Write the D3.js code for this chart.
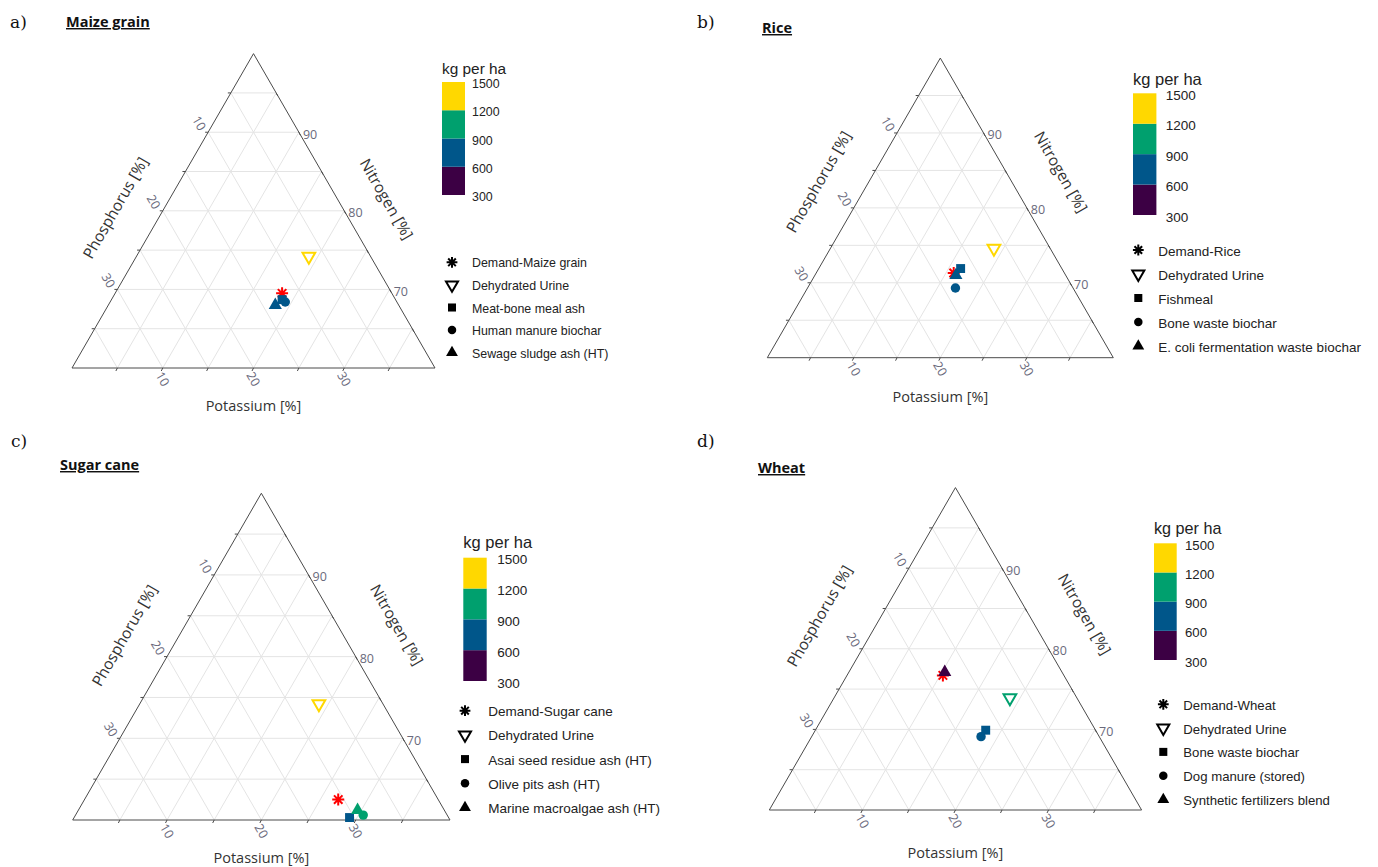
<!DOCTYPE html>
<html lang="en">
<head>
    <meta charset="UTF-8">
    <title>ternary plots</title>
    <script src="https://d3js.org/d3.v7.min.js"></script>
    <style>
        body{ margin:0; background:#fff; }
        .grid{ stroke:#e4e4e4; stroke-width:1; fill:none; }
        .edge{ stroke:#4a4a4a; stroke-width:1; fill:none; }
        .tick{ font-family:"Open Sans",sans-serif; font-size:12.5px; fill:#6a6a7c; }
        .axlab{ font-family:"Open Sans",sans-serif; font-size:14.5px; fill:#333; }
        .leg{ font-family:"Liberation Sans",Arial,sans-serif; fill:#222; }
    </style>
</head>
<body>
<svg id="fig" width="1378" height="867"></svg>

<script>
    // data
    let panelTags = ["a)", "b)", "c)", "d)"]
    let crops = ["Maize grain", "Rice", "Sugar cane", "Wheat"]
    let seriesNames = [
        ["Demand-Maize grain", "Dehydrated Urine", "Meat-bone meal ash", "Human manure biochar", "Sewage sludge ash (HT)"],
        ["Demand-Rice", "Dehydrated Urine", "Fishmeal", "Bone waste biochar", "E. coli fermentation waste biochar"],
        ["Demand-Sugar cane", "Dehydrated Urine", "Asai seed residue ash (HT)", "Olive pits ash (HT)", "Marine macroalgae ash (HT)"],
        ["Demand-Wheat", "Dehydrated Urine", "Bone waste biochar", "Dog manure (stored)", "Synthetic fertilizers blend"]
    ]
    let nitrogen = [
        [69.5, 74.2, 68.7, 68.4, 68.0],
        [71.3, 74.6, 71.9, 69.3, 71.0],
        [62.5, 74.2, 60.3, 60.6, 61.2],
        [76.7, 73.9, 69.9, 69.1, 77.1]
    ]
    let phosphorus = [
        [12.1, 6.8, 12.5, 12.3, 13.6],
        [12.8, 6.5, 11.7, 13.6, 12.7],
        [10.6, 6.8, 10.5, 8.9, 9.2],
        [13.0, 7.2, 11.8, 12.7, 12.6]
    ]
    let potassium = [
        [18.4, 19.0, 18.8, 19.3, 18.4],
        [15.9, 18.9, 16.4, 17.1, 16.3],
        [26.9, 19.0, 29.2, 30.5, 29.6],
        [10.3, 18.9, 18.3, 18.2, 10.3]
    ]
    // demand has no kg value (drawn red)
    let kgPerHa = [
        [null, 1350, 750, 750, 750],
        [null, 1350, 750, 750, 750],
        [null, 1350, 750, 1050, 1050],
        [null, 1050, 750, 750, 450]
    ]
    let colorBreaks = [300, 600, 900, 1200, 1500]
    let binColors = ["#3c0044", "#00568a", "#00a06e", "#ffd800"]
    let shapes = ["asterisk", "down", "square", "circle", "triangle"]
    let nTicks = [90, 80, 70]
    let pTicks = [10, 20, 30]
    let kTicks = [10, 20, 30]
    let gridSteps = [5, 10, 15, 20, 25, 30, 35]

    // layout of each panel
    let layout = [
        {x:72, y:368, w:363, tag:[10,28], title:[66,27],
         lab:{pOut:43, pAlong:21, nOut:43, nAlong:11, kDown:37},
         leg:{x:442, titleY:74, top:82, bottom:195, cw:23, labX:472, symX:452, txtX:472, rowY:262.3, step:22.6, fs:12.4}},
        {x:767.3, y:357.7, w:346, tag:[697,28], title:[762,33],
         lab:{pOut:44, pAlong:-5, nOut:48, nAlong:-14, kDown:39},
         leg:{x:1133, titleY:85, top:93.3, bottom:215, cw:23.4, labX:1165.7, symX:1138.3, txtX:1158.3, rowY:250, step:24, fs:13.5}},
        {x:72.7, y:820, w:377.3, tag:[11,447], title:[60,470],
         lab:{pOut:48, pAlong:3, nOut:52, nAlong:-7, kDown:37},
         leg:{x:463.3, titleY:548.3, top:557.7, bottom:681, cw:23.4, labX:497.3, symX:465, txtX:488.3, rowY:710.7, step:24.2, fs:13.5}},
        {x:769.3, y:810, w:372.3, tag:[697,447], title:[758,473],
         lab:{pOut:54, pAlong:-7, nOut:49, nAlong:-12, kDown:42},
         leg:{x:1154, titleY:534, top:543.3, bottom:660, cw:22.7, labX:1185, symX:1163.3, txtX:1183.3, rowY:704.3, step:23.8, fs:13.2}}
    ]

    let color = d3.scaleThreshold().domain(colorBreaks.slice(1, 4)).range(binColors)
    let svg = d3.select("#fig")

    function asteriskPath(r){
        let p = d3.path()
        for (let i = 0; i < 4; i++) {
            let a = i * Math.PI / 4
            p.moveTo(-r * Math.cos(a), -r * Math.sin(a))
            p.lineTo(r * Math.cos(a), r * Math.sin(a))
        }
        return p.toString()
    }

    function drawSymbol(g, shape, x, y, col, scale){
        if (shape === "asterisk") {
            g.append("path").attr("d", asteriskPath(6 * scale))
                .attr("transform", `translate(${x},${y})`)
                .attr("stroke", col).attr("stroke-width", 2).attr("fill", "none")
        } else if (shape === "down") {
            g.append("path").attr("d", d3.symbol(d3.symbolTriangle, 70 * scale * scale)())
                .attr("transform", `translate(${x},${y}) rotate(180)`)
                .attr("stroke", col).attr("stroke-width", 2).attr("fill", "none")
        } else {
            let type = {square: d3.symbolSquare, circle: d3.symbolCircle, triangle: d3.symbolTriangle}[shape]
            let size = {square: 80, circle: 70, triangle: 75}[shape]
            g.append("path").attr("d", d3.symbol(type, size * scale * scale)())
                .attr("transform", `translate(${x},${y})`)
                .attr("fill", col)
        }
    }

    layout.forEach(function (L, i){
        let g = svg.append("g")
        let h = L.w * Math.sqrt(3) / 2
        let kx = d3.scaleLinear().domain([0, 40]).range([L.x, L.x + L.w])
        let ny = d3.scaleLinear().domain([60, 100]).range([L.y, L.y - h])
        // position from N and K (P is the rest)
        function pos(N, K){
            let y = ny(N)
            return [kx(K) + (L.y - y) / Math.sqrt(3), y]
        }

        // grid
        gridSteps.forEach(function (v){
            let lines = [
                [pos(60 + v, 0), pos(60 + v, 40 - v)],
                [pos(60, v), pos(100 - v, v)],
                [pos(60, 40 - v), pos(100 - v, 0)]
            ]
            lines.forEach(function (l){
                g.append("line").attr("class", "grid")
                    .attr("x1", l[0][0]).attr("y1", l[0][1])
                    .attr("x2", l[1][0]).attr("y2", l[1][1])
            })
        })
        // small ticks on edges
        gridSteps.forEach(function (v){
            let b = pos(60, v), lft = pos(100 - v, 0), r = pos(100 - v, v)
            g.append("line").attr("class", "edge").attr("x1", b[0]).attr("y1", b[1]).attr("x2", b[0] - 1.5).attr("y2", b[1] + 3)
            g.append("line").attr("class", "edge").attr("x1", lft[0]).attr("y1", lft[1]).attr("x2", lft[0] - 3).attr("y2", lft[1])
            g.append("line").attr("class", "edge").attr("x1", r[0]).attr("y1", r[1]).attr("x2", r[0] + 1.5).attr("y2", r[1] + 3)
        })
        let corners = [pos(60, 0), pos(60, 40), pos(100, 0)]
        g.append("path").attr("class", "edge").attr("d", d3.line()(corners) + "Z")

        // tick labels
        kTicks.forEach(function (v){
            let p = pos(60, v)
            g.append("text").attr("class", "tick").text(v)
                .attr("transform", `translate(${p[0]},${p[1] + 11}) rotate(60)`)
                .attr("text-anchor", "middle").attr("dominant-baseline", "central")
        })
        pTicks.forEach(function (v){
            let p = pos(100 - v, 0)
            g.append("text").attr("class", "tick").text(v)
                .attr("transform", `translate(${p[0] - 9},${p[1] - 9}) rotate(60)`)
                .attr("text-anchor", "middle").attr("dominant-baseline", "central")
        })
        nTicks.forEach(function (v){
            let p = pos(v, 100 - v)
            g.append("text").attr("class", "tick").text(v)
                .attr("x", p[0] + 4).attr("y", p[1] + 2)
                .attr("dominant-baseline", "central")
        })

        // axis labels
        let lm = pos(80, 0), rm = pos(80, 20), bm = pos(60, 20)
        let c30 = Math.sqrt(3) / 2
        let px = lm[0] - c30 * L.lab.pOut - 0.5 * L.lab.pAlong
        let py = lm[1] - 0.5 * L.lab.pOut + c30 * L.lab.pAlong
        g.append("text").attr("class", "axlab").text("Phosphorus [%]")
            .attr("transform", `translate(${px},${py}) rotate(-60)`)
            .attr("text-anchor", "middle").attr("dominant-baseline", "central")
            .style("font-size", "15.5px")
        let qx = rm[0] + c30 * L.lab.nOut + 0.5 * L.lab.nAlong
        let qy = rm[1] - 0.5 * L.lab.nOut + c30 * L.lab.nAlong
        g.append("text").attr("class", "axlab").text("Nitrogen [%]")
            .attr("transform", `translate(${qx},${qy}) rotate(60)`)
            .attr("text-anchor", "middle").attr("dominant-baseline", "central")
            .style("font-size", "15.5px")
        g.append("text").attr("class", "axlab").text("Potassium [%]")
            .attr("x", bm[0]).attr("y", bm[1] + L.lab.kDown)
            .attr("text-anchor", "middle").attr("dominant-baseline", "central")

        // points
        shapes.forEach(function (s, j){
            let p = pos(nitrogen[i][j], potassium[i][j])
            let col = kgPerHa[i][j] === null ? "#ff0000" : color(kgPerHa[i][j])
            drawSymbol(g, s, p[0], p[1], col, 1)
        })

        // colour bar
        let cb = L.leg
        let cy = d3.scaleLinear().domain([300, 1500]).range([cb.bottom, cb.top])
        g.append("text").attr("class", "leg").text("kg per ha")
            .attr("x", cb.x).attr("y", cb.titleY).style("font-size", (cb.fs + 3) + "px")
        binColors.forEach(function (c, k){
            g.append("rect").attr("x", cb.x).attr("width", cb.cw)
                .attr("y", cy(colorBreaks[k + 1])).attr("height", cy(colorBreaks[k]) - cy(colorBreaks[k + 1]))
                .attr("fill", c)
        })
        colorBreaks.forEach(function (v){
            g.append("text").attr("class", "leg").text(v)
                .attr("x", cb.labX).attr("y", cy(v) + 2)
                .attr("dominant-baseline", "central").style("font-size", cb.fs + "px")
        })
        // symbol legend
        seriesNames[i].forEach(function (name, j){
            let y = cb.rowY + j * cb.step
            drawSymbol(g, shapes[j], cb.symX, y, "#000", shapes[j] === "down" ? 0.95 : 0.9)
            g.append("text").attr("class", "leg").text(name)
                .attr("x", cb.txtX).attr("y", y + 1)
                .attr("dominant-baseline", "central").style("font-size", cb.fs + "px")
        })

        // headings
        g.append("text").text(panelTags[i])
            .attr("x", L.tag[0]).attr("y", L.tag[1])
            .style("font-family", "'DejaVu Serif',serif").style("font-size", "17px").style("fill", "#111")
        g.append("text").text(crops[i])
            .attr("x", L.title[0]).attr("y", L.title[1])
            .style("font-family", "'Open Sans',sans-serif").style("font-weight", "bold")
            .style("font-size", "14.5px").style("fill", "#111")
            .style("text-decoration", "underline")
    })
</script>
</body>
</html>
